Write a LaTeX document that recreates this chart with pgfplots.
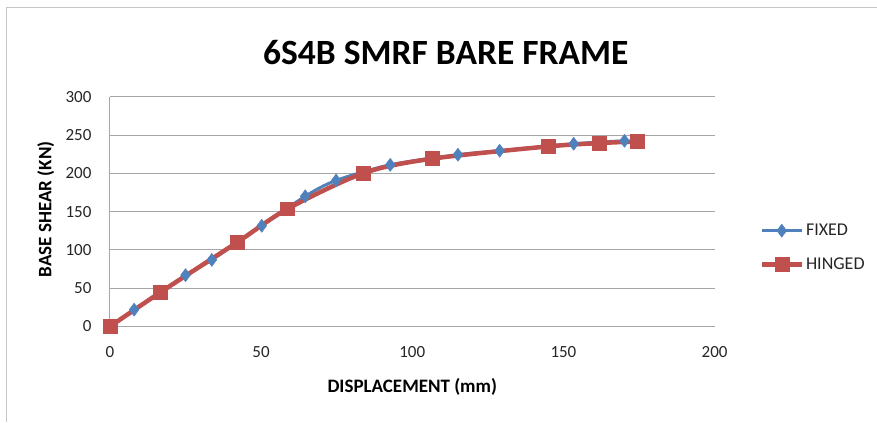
\documentclass[border=0pt]{standalone}
\usepackage{fontspec}
\setmainfont{Carlito}
\usepackage{pgfplots}
\pgfplotsset{compat=1.18}
\definecolor{fixedblue}{HTML}{4F81BD}
\definecolor{hingedred}{HTML}{C0504D}
\definecolor{gridgray}{HTML}{A6A6A6}

\begin{document}
\begin{tikzpicture}
\path (0pt,0pt) rectangle (877pt,-422pt);
\draw[gray!45, line width=1pt] (7pt,-422pt) -- (7pt,-8pt) -- (877pt,-8pt);
\node[font=\bfseries\fontsize{35.5}{38}\selectfont] at (446pt,-52.5pt) {6S4B SMRF BARE FRAME};
\begin{axis}[
    at={(110pt,-326.7pt)}, anchor=south west,
    scale only axis,
    width=605pt, height=230pt,
    xmin=0, xmax=200, ymin=0, ymax=300,
    xtick={0,50,...,200}, ytick={0,50,...,300},
    axis x line*=bottom, axis y line*=left,
    axis line style={gridgray, line width=0.9pt, -},
    ymajorgrids, major grid style={gridgray, line width=0.9pt},
    major tick length=0pt,
    tick label style={font=\fontsize{17}{19}\selectfont, black!85},
    /pgf/number format/assume math mode=true,
    xticklabel style={yshift=-16pt},
    yticklabel style={xshift=-15pt},
    xlabel={\textbf{DISPLACEMENT (mm)}},
    ylabel={\textbf{BASE SHEAR (KN)}},
    label style={font=\fontsize{19}{21}\selectfont},
    xlabel style={at={(axis description cs:0.5,-0.262)}, anchor=center},
    ylabel style={at={(axis description cs:-0.106,0.51)}, anchor=center},
    clip=false,
    legend style={at={(axis description cs:1.074,0.455)}, anchor=north west, draw=none, fill=none,
      font=\fontsize{18}{20}\selectfont, row sep=17pt, inner sep=0pt, text=black!85},
    legend cell align=left,
    legend image code/.code={\draw[mark repeat=2,mark phase=2,#1] plot coordinates {(0pt,0pt) (20pt,0pt) (40pt,0pt)};},
]
\addplot[fixedblue, line width=3pt, smooth, mark=diamond*, mark size=6.5pt, mark options={solid, fill=fixedblue, line width=0.5pt}]
  coordinates {(0,0) (8.0,22) (25.0,67) (33.7,87) (50.2,131.5) (64.6,170) (74.8,190.6) (92.7,211) (115.1,224.2) (128.9,229.4) (153.4,238.5) (170.2,242.4)};
\addlegendentry{FIXED}
\addplot[hingedred, line width=4.5pt, smooth, mark=square*, mark size=7pt, mark options={solid, fill=hingedred, line width=0.5pt}]
  coordinates {(0,0) (16.6,44.4) (42.0,109.7) (58.8,153.7) (83.9,200.2) (106.5,219) (144.9,235) (161.9,239.4) (174.3,241.5)};
\addlegendentry{HINGED}
\end{axis}
\end{tikzpicture}
\end{document}
